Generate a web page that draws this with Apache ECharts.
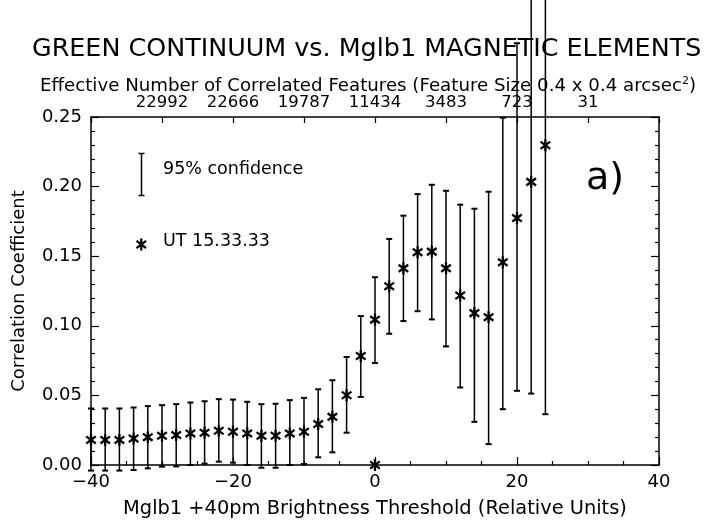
<!DOCTYPE html>
<html>
<head>
<meta charset="utf-8">
<script src="https://cdn.jsdelivr.net/npm/echarts@6/dist/echarts.min.js"></script>
<style>html,body{margin:0;padding:0;background:#fff}#c{width:708px;height:526px}</style>
</head>
<body>
<div id="c"></div>
<script>
var thresholds = [-40,-38,-36,-34,-32,-30,-28,-26,-24,-22,-20,-18,-16,-14,-12,-10,-8,-6,-4,-2,0,2,4,6,8,10,12,14,16,18,20,22,24];
var corr = [0.018,0.018,0.018,0.019,0.020,0.021,0.0215,0.0227,0.0232,0.0246,0.0239,0.0227,0.021,0.021,0.0227,0.0239,0.0294,0.0346,0.0501,0.0783,0.1044,0.1284,0.1413,0.1528,0.1533,0.1413,0.1218,0.1091,0.1062,0.1456,0.1774,0.2034,0.2297];
var upper = [0.0406,0.0406,0.0406,0.0413,0.0423,0.043,0.0437,0.0449,0.0458,0.0473,0.047,0.0454,0.0437,0.044,0.0466,0.0482,0.0544,0.0609,0.0776,0.107,0.1349,0.1624,0.1791,0.1946,0.2013,0.197,0.187,0.1841,0.1963,0.2495,0.303,0.34,0.34];
var lower = [-0.004,-0.004,-0.004,-0.0036,-0.0024,-0.0012,-0.001,0,0.001,0.0024,0.0017,0,-0.002,-0.002,0,0.0007,0.0055,0.0091,0.0232,0.0489,0.0733,0.0943,0.1034,0.1105,0.1046,0.0852,0.0557,0.031,0.015,0.0401,0.0533,0.0513,0.0365];
var strayX = [0];
var strayY = [0];
var topTickValues = [-30,-20,-10,0,10,20,30];
var topTickLabels = ['22992','22666','19787','11434','3483','723','31'];

var FONT = 'DejaVu Sans';
var chart = echarts.init(document.getElementById('c'), null, {renderer:'canvas'});

var barData = thresholds.map(function(x,i){return [x, lower[i], upper[i]];});
var starData = thresholds.map(function(x,i){return [x, corr[i]];});
strayX.forEach(function(x,i){starData.push([x, strayY[i]]);});

function starShape(cx, cy, r){
  var d = r*0.8, h = r*0.6;
  var st = {stroke:'#000', lineWidth:2.3};
  return [
    {type:'line', shape:{x1:cx, y1:cy-r, x2:cx, y2:cy+r}, style:st},
    {type:'line', shape:{x1:cx-d, y1:cy-h, x2:cx+d, y2:cy+h}, style:st},
    {type:'line', shape:{x1:cx-d, y1:cy+h, x2:cx+d, y2:cy-h}, style:st}
  ];
}

var axisLabelStyle = {color:'#000', fontFamily:FONT, fontSize:18};

var option = {
  backgroundColor:'#fff',
  animation:false,
  grid:{left:91, right:49, top:117, bottom:61},
  graphic:[
    {type:'text', left:32, top:37, style:{text:'GREEN CONTINUUM vs. Mglb1 MAGNETIC ELEMENTS', fontFamily:FONT, fontSize:25.4, fill:'#000'}, z:0},
    {type:'text', left:40, top:76, style:{rich:{n:{fontFamily:FONT, fontSize:18.2, fill:'#000'}, s:{fontFamily:FONT, fontSize:11, fill:'#000', verticalAlign:'top', padding:[0,0,10,0]}}, text:'{n|Effective Number of Correlated Features (Feature Size 0.4 x 0.4 arcsec}{s|2}{n|)}'}, z:0},
    {type:'text', left:586, top:160, style:{text:'a)', fontFamily:FONT, fontSize:38, fill:'#000'}},
    {type:'group', left:136, top:151, children:[
      {type:'line', shape:{x1:4, y1:0, x2:4, y2:42}, style:{stroke:'#000', lineWidth:1.5}},
      {type:'line', shape:{x1:1, y1:0, x2:7, y2:0}, style:{stroke:'#000', lineWidth:1.5}},
      {type:'line', shape:{x1:1, y1:42, x2:7, y2:42}, style:{stroke:'#000', lineWidth:1.5}}
    ]},
    {type:'text', left:163, top:160, style:{text:'95% confidence', fontFamily:FONT, fontSize:17.5, fill:'#000'}},
    {type:'group', left:134, top:236, children:starShape(6,6,6)},
    {type:'text', left:163, top:232, style:{text:'UT 15.33.33', fontFamily:FONT, fontSize:17.5, fill:'#000'}}
  ],
  xAxis:[
    {type:'value', position:'bottom', min:-40, max:40, interval:20,
     axisLine:{onZero:false, lineStyle:{color:'#000', width:1.5}},
     axisTick:{inside:true, length:8, lineStyle:{color:'#000', width:1.2}},
     minorTick:{show:true, splitNumber:4, length:4, lineStyle:{color:'#000', width:1.2}},
     splitLine:{show:false},
     axisLabel:Object.assign({margin:8, formatter:function(v){return v<0 ? '\u2212'+Math.abs(v) : String(v);}}, axisLabelStyle),
     name:'Mglb1 +40pm Brightness Threshold (Relative Units)', nameLocation:'middle', nameGap:34,
     nameTextStyle:{color:'#000', fontFamily:FONT, fontSize:19.4}},
    {type:'value', position:'top', min:-40, max:40, interval:10,
     axisLine:{onZero:false, lineStyle:{color:'#000', width:1.5}},
     axisTick:{inside:true, length:6, lineStyle:{color:'#000', width:1.2}},
     splitLine:{show:false},
     axisLabel:Object.assign({margin:6, formatter:function(v){var i=topTickValues.indexOf(v); return i>=0?topTickLabels[i]:'';}}, axisLabelStyle, {fontSize:16.5})}
  ],
  yAxis:[
    {type:'value', position:'left', min:0, max:0.25, interval:0.05,
     axisLine:{show:true, onZero:false, lineStyle:{color:'#000', width:1.5}},
     axisTick:{show:true, inside:true, length:8, lineStyle:{color:'#000', width:1.2}},
     minorTick:{show:true, splitNumber:5, length:4, lineStyle:{color:'#000', width:1.2}},
     splitLine:{show:false},
     axisLabel:Object.assign({margin:9, formatter:function(v){return v.toFixed(2);}}, axisLabelStyle),
     name:'Correlation Coefficient', nameLocation:'middle', nameGap:63, nameRotate:90,
     nameTextStyle:{color:'#000', fontFamily:FONT, fontSize:18}},
    {type:'value', position:'right', min:0, max:0.25, interval:0.05,
     axisLine:{show:true, onZero:false, lineStyle:{color:'#000', width:1.5}},
     axisTick:{show:true, inside:true, length:8, lineStyle:{color:'#000', width:1.2}},
     minorTick:{show:true, splitNumber:5, length:4, lineStyle:{color:'#000', width:1.2}},
     splitLine:{show:false}, axisLabel:{show:false}}
  ],
  series:[
    {type:'custom', name:'95% confidence', clip:false, xAxisIndex:0, yAxisIndex:0, data:barData,
     renderItem:function(params, api){
       var x = api.value(0);
       var lo = api.coord([x, api.value(1)]);
       var hi = api.coord([x, api.value(2)]);
       var cw = 3;
       return {type:'group', children:[
         {type:'line', shape:{x1:lo[0], y1:lo[1], x2:hi[0], y2:hi[1]}, style:{stroke:'#000', lineWidth:1.5}},
         {type:'line', shape:{x1:lo[0]-cw, y1:lo[1], x2:lo[0]+cw, y2:lo[1]}, style:{stroke:'#000', lineWidth:2}},
         {type:'line', shape:{x1:hi[0]-cw, y1:hi[1], x2:hi[0]+cw, y2:hi[1]}, style:{stroke:'#000', lineWidth:2}}
       ]};
     }},
    {type:'custom', name:'UT 15.33.33', clip:false, xAxisIndex:0, yAxisIndex:0, data:starData,
     renderItem:function(params, api){
       var p = api.coord([api.value(0), api.value(1)]);
       return {type:'group', children:starShape(p[0], p[1], 6)};
     }}
  ]
};
chart.setOption(option);
</script>
</body>
</html>
